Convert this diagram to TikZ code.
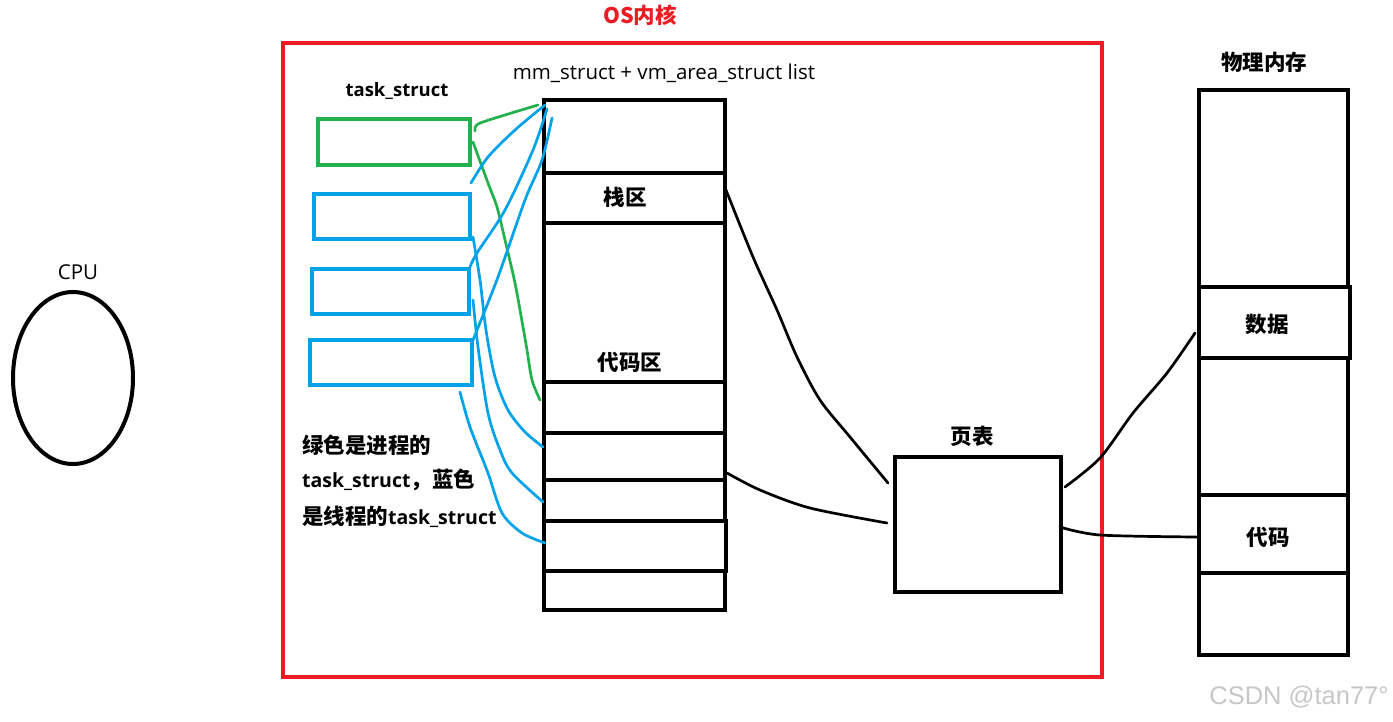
\documentclass[tikz,border=0pt]{standalone}
\usepackage{fontspec}
\setmainfont{Open Sans}
\newfontfamily\cjk{Noto Sans CJK SC}
\newfontfamily\wmfont{Liberation Sans}
\usetikzlibrary{shapes.geometric}
\definecolor{pred}{HTML}{ED1C24}
\definecolor{pgreen}{HTML}{22B14C}
\definecolor{pblue}{HTML}{00A2E8}
\newcommand{\zhn}[1]{{\cjk\fontsize{21.5}{24}\selectfont #1}}
\begin{document}
\begin{tikzpicture}[x=1pt,y=-1pt,
  box/.style={draw=black,line width=4pt,inner sep=0pt,outer sep=0pt},
  gbox/.style={draw=pgreen,line width=4pt,inner sep=0pt,outer sep=0pt},
  bbox/.style={draw=pblue,line width=4pt,inner sep=0pt,outer sep=0pt},
  wire/.style={line width=2.7pt,line cap=round,line join=round},
  zh/.style={inner sep=0pt,font=\cjk\bfseries\fontsize{21.5}{24}\selectfont},
  en/.style={inner sep=0pt,font=\fontsize{20.5}{24}\selectfont},
  note/.style={inner sep=0pt,anchor=west,font=\bfseries\fontsize{19.5}{24}\selectfont}]
\useasboundingbox (0,0) rectangle (1393,721);
\fill[white] (0,0) rectangle (1393,721);

% OS kernel frame
\node[draw=pred,line width=4pt,inner sep=0pt,minimum width=819pt,minimum height=634pt] (os) at (692.5,360) {};
\node[zh,text=pred] (oslbl) at (640,15) {OS内核};

% CPU
\node[draw,ellipse,line width=4pt,minimum width=120pt,minimum height=172pt,inner sep=0pt] (cpu) at (73,378) {};
\node[en] (cpulbl) at (78,272) {CPU};

% task_structs
\node[en,font=\bfseries\fontsize{18.5}{22}\selectfont] (tslbl) at (397,91) {task\_struct};
\node[gbox,minimum width=152pt,minimum height=46pt] (g) at (394,142) {};
\node[bbox,minimum width=156pt,minimum height=45pt] (b1) at (392,216.5) {};
\node[bbox,minimum width=157pt,minimum height=45pt] (b2) at (390.5,291.5) {};
\node[bbox,minimum width=162pt,minimum height=45pt] (b3) at (391,362.5) {};

% mm_struct column
\node[en] (mmlbl) at (664,73) {mm\_struct + vm\_area\_struct list};
\node[box,minimum width=181pt,minimum height=73.5pt] (mm0) at (634.5,136.25) {};
\node[box,minimum width=181pt,minimum height=50pt] (mm1) at (634.5,198) {};
\node[box,minimum width=181pt,minimum height=159pt] (mm2) at (634.5,302.5) {};
\node[box,minimum width=181pt,minimum height=51pt] (mm3) at (634.5,407.5) {};
\node[box,minimum width=181pt,minimum height=47pt] (mm4) at (634.5,456.5) {};
\node[box,minimum width=181pt,minimum height=41pt] (mm5) at (634.5,500.5) {};
\node[box,minimum width=182pt,minimum height=50pt] (mm6) at (635,546) {};
\node[box,minimum width=181pt,minimum height=39pt] (mm7) at (634.5,590.5) {};
\node[zh] (stack) at (625,197) {栈区};
\node[zh] (code) at (630,362) {代码区};

% page table
\node[box,minimum width=166pt,minimum height=135pt] (pt) at (978,524.5) {};
\node[zh] (ptlbl) at (972,436) {页表};

% physical memory
\node[zh] (pmlbl) at (1264,62) {物理内存};
\node[box,minimum width=149pt,minimum height=197pt] (p0) at (1273.5,188.5) {};
\node[box,minimum width=151pt,minimum height=71pt] (p1) at (1274.5,322.5) {};
\node[box,minimum width=149pt,minimum height=137pt] (p2) at (1273.5,426.5) {};
\node[box,minimum width=149pt,minimum height=78pt] (p3) at (1273.5,534) {};
\node[box,minimum width=149pt,minimum height=82pt] (p4) at (1273.5,614) {};
\node[zh] (data) at (1267,324) {数据};
\node[zh] (pcode) at (1268,537) {代码};

% note
\node[note] (n1) at (302,445) {\zhn{绿色是进程的}};
\node[note] (n2) at (302,480) {task\_struct\zhn{，蓝色}};
\node[note] (n3) at (302,517) {\zhn{是线程的}task\_struct};

% watermark
\node[inner sep=0pt,text=black!22,font=\wmfont\fontsize{25.5}{28}\selectfont] (wm) at (1299,697) {CSDN @tan77°};

% connector end points
\coordinate (k1s) at (726,190); \coordinate (k1e) at (888,483);
\coordinate (k2s) at (727,473); \coordinate (k2e) at (887,523);
\coordinate (k3s) at (1065,487); \coordinate (k3e) at (1195,333);
\coordinate (k4s) at (1060,527); \coordinate (k4e) at (1197,537);

\draw[wire] plot[smooth] coordinates {(k1s) (753,257) (777,310) (797,357) (820,400) (850,437) (k1e)};
\draw[wire] plot[smooth] coordinates {(k2s) (760,490) (810,508) (k2e)};
\draw[wire] plot[smooth] coordinates {(k3s) (1100,458) (1133,413) (1167,373) (k3e)};
\draw[wire] plot[smooth] coordinates {(k4s) (1100,535) (k4e)};

% green
\coordinate (g1s) at (475,131); \coordinate (g1e) at (538,105);
\coordinate (g2s) at (473,142); \coordinate (g2e) at (540,400);
\draw[wire,pgreen] plot[smooth] coordinates {(g1s) (478,124) (505,115) (g1e)};
\draw[wire,pgreen] plot[smooth] coordinates {(g2s) (488,183) (497,207) (505,240) (515,283) (523,327) (527,350) (532,380) (g2e)};

% blue
\coordinate (u1s) at (471,183); \coordinate (u1e) at (545,105);
\coordinate (u2s) at (470,267); \coordinate (u2e) at (547,109);
\coordinate (u3s) at (473,340); \coordinate (u3e) at (552,118);
\coordinate (d1s) at (473,237); \coordinate (d1e) at (543,447);
\coordinate (d2s) at (473,300); \coordinate (d2e) at (543,502);
\coordinate (d3s) at (460,392); \coordinate (d3e) at (545,543);
\draw[wire,pblue] plot[smooth] coordinates {(u1s) (488,157) (515,130) (u1e)};
\draw[wire,pblue] plot[smooth] coordinates {(u2s) (477,253) (505,210) (533,150) (u2e)};
\draw[wire,pblue] plot[smooth] coordinates {(u3s) (498,277) (525,200) (542,160) (u3e)};
\draw[wire,pblue] plot[smooth] coordinates {(d1s) (480,280) (486,330) (495,377) (508,410) (525,432) (d1e)};
\draw[wire,pblue] plot[smooth] coordinates {(d2s) (478,347) (488,413) (500,450) (512,473) (d2e)};
\draw[wire,pblue] plot[smooth] coordinates {(d3s) (470,427) (488,473) (502,513) (522,533) (d3e)};
\end{tikzpicture}
\end{document}
